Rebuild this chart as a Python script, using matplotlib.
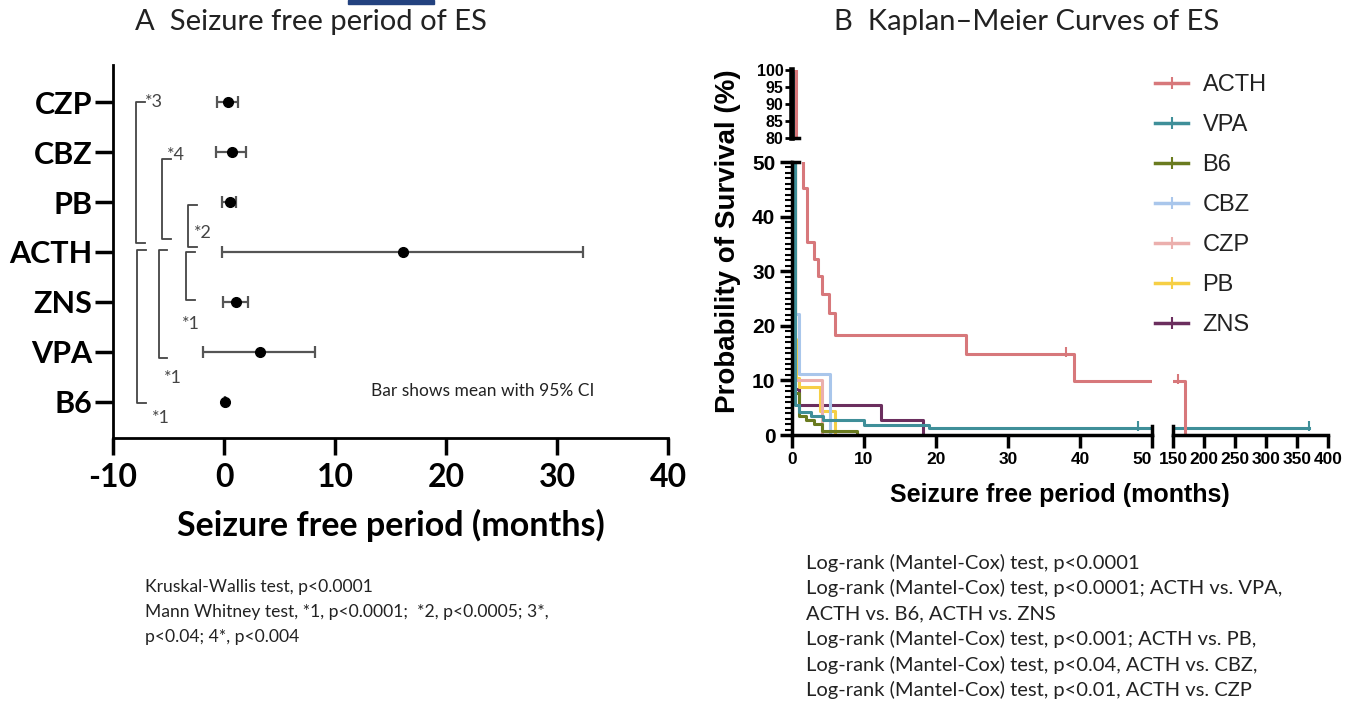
import matplotlib.pyplot as plt
from matplotlib.lines import Line2D
from matplotlib.patches import Rectangle

# ---- panel A: seizure free period, mean with 95% CI ----
drugs = ['CZP', 'CBZ', 'PB', 'ACTH', 'ZNS', 'VPA', 'B6']
means = [0.4, 0.7, 0.5, 16.1, 1.1, 3.2, 0.1]
ci_low = [-0.6, -0.7, -0.2, -0.2, -0.1, -1.9, 0.1]
ci_high = [1.3, 2.0, 1.1, 32.3, 2.2, 8.2, 0.1]
x_ticks_a = [-10, 0, 10, 20, 30, 40]

# significance pairs (Mann Whitney) and their labels
sig_pairs = [('CZP', 'ACTH'), ('CBZ', 'ACTH'), ('PB', 'ACTH'),
             ('ACTH', 'ZNS'), ('ACTH', 'VPA'), ('ACTH', 'B6')]
sig_labels = ['*3', '*4', '*2', '*1', '*1', '*1']

# ---- panel B: Kaplan-Meier curves (event times, survival % after event) ----
groups = ['ACTH', 'VPA', 'B6', 'CBZ', 'CZP', 'PB', 'ZNS']
colors = ['#D7787B', '#3F8F99', '#6A7B1F', '#A9C6EB', '#EBAFAD', '#F6CF45', '#6B2E5E']
acth_t = [0.6, 1.5, 2.1, 3.0, 3.6, 4.2, 5.1, 6.0, 24.2, 39.2, 170]
acth_s = [55, 45.2, 35.4, 32.3, 29.1, 25.8, 22.3, 18.4, 14.8, 9.9, 0]
vpa_t = [0.35, 1.0, 2.6, 4.3, 10.0, 19.0]
vpa_s = [5.5, 4.3, 3.4, 2.7, 1.8, 1.3]
b6_t = [0.35, 1.0, 2.0, 3.0, 4.2, 9.0]
b6_s = [7.7, 3.4, 2.7, 2.0, 0.8, 0]
cbz_t = [0.4, 1.0, 5.3]
cbz_s = [22.2, 11.1, 0]
czp_t = [0.4, 4.1]
czp_s = [10.0, 0]
pb_t = [0.35, 0.6, 1.0, 3.9, 6.0]
pb_s = [17.5, 10.5, 8.8, 4.4, 0]
zns_t = [0.4, 1.0, 12.3, 18.2]
zns_s = [8.4, 5.5, 2.7, 0]
times = [acth_t, vpa_t, b6_t, cbz_t, czp_t, pb_t, zns_t]
survs = [acth_s, vpa_s, b6_s, cbz_s, czp_s, pb_s, zns_s]
last_follow = [170, 370, 9.0, 5.3, 4.1, 6.0, 18.2]
# censored observations
censor_t = {'ACTH': [38, 158], 'VPA': [48, 370]}
censor_s = {'ACTH': [14.8, 9.9], 'VPA': [1.3, 1.3]}

notes_a = ['Kruskal-Wallis test, p<0.0001',
           'Mann Whitney test, *1, p<0.0001;  *2, p<0.0005; 3*,',
           'p<0.04; 4*, p<0.004']
notes_b = ['Log-rank (Mantel-Cox) test, p<0.0001',
           'Log-rank (Mantel-Cox) test, p<0.0001; ACTH vs. VPA,',
           'ACTH vs. B6, ACTH vs. ZNS',
           'Log-rank (Mantel-Cox) test, p<0.001; ACTH vs. PB,',
           'Log-rank (Mantel-Cox) test, p<0.04, ACTH vs. CBZ,',
           'Log-rank (Mantel-Cox) test, p<0.01, ACTH vs. CZP']

W, H = 1354, 706
fig = plt.figure(figsize=(W / 100, H / 100), dpi=100)


def fx(px):
    return px / W


def fy(py):
    return 1 - py / H


CAL = 'Lato'
ARI = 'Liberation Sans'

# small blue bar cut off at the top of the picture
fig.patches.append(Rectangle((fx(348), fy(4)), fx(86), 4 / H, color='#23427F',
                             transform=fig.transFigure))

# ================= panel A =================
axa = fig.add_axes([fx(113), fy(438), fx(668) - fx(113), fy(65) - fy(438)])
ypos = list(range(len(drugs)))
xerr = [[m - lo for m, lo in zip(means, ci_low)],
        [hi - m for m, hi in zip(means, ci_high)]]
axa.errorbar(means, ypos, xerr=xerr, fmt='o', color='black', ecolor='#555555',
             elinewidth=1.6, capsize=4, capthick=1.6, ms=7, zorder=3)
axa.set_xlim(-10, 40)
axa.set_ylim(6.73, -0.75)
axa.set_xticks(x_ticks_a)
axa.set_xticklabels([str(v) for v in x_ticks_a], fontfamily=CAL,
                    fontweight='bold', fontsize=23)
axa.set_yticks(ypos)
axa.set_yticklabels(drugs, fontfamily=CAL, fontweight='bold', fontsize=22)
axa.tick_params(axis='x', length=12, width=2.5, pad=6)
axa.tick_params(axis='y', length=13, width=2.5, pad=2)
for s in ['top', 'right']:
    axa.spines[s].set_visible(False)
for s in ['left', 'bottom']:
    axa.spines[s].set_linewidth(2)
axa.set_xlabel('Seizure free period (months)', fontfamily=CAL,
               fontweight='bold', fontsize=24.5, labelpad=12)

# brackets: vertical x, top end, bottom end, label offset (x, y)
br_x = [-7.96, -5.6, -3.25, -3.45, -5.9, -7.8]
br_top = [0.0, 1.14, 2.05, 3.01, 2.95, 2.95]
br_bot = [2.82, 2.74, 2.9, 3.97, 5.12, 6.02]
lab_xy = [(-7.1, 0.0), (-5.1, 1.05), (-2.75, 2.62), (-3.8, 4.45),
          (-5.4, 5.52), (-6.5, 6.32)]
arm = 0.8
for bx, bt, bb, lab, (lx, ly) in zip(br_x, br_top, br_bot, sig_labels, lab_xy):
    axa.plot([bx + arm, bx, bx, bx + arm], [bt, bt, bb, bb],
             color='#444444', lw=1.3, zorder=2)
    axa.text(lx, ly, lab, fontfamily=CAL, fontsize=13, color='#444444',
             ha='left', va='center')
axa.text(13.2, 5.78, 'Bar shows mean with 95% CI', fontfamily=CAL,
         fontsize=12.5, color='#222222', ha='left', va='center')

fig.text(fx(135), fy(22), 'A  Seizure free period of ES', fontfamily=CAL,
         fontsize=21, color='#222222', ha='left', va='center')
for i, line in enumerate(notes_a):
    fig.text(fx(145), fy(587 + 25 * i), line, fontfamily=CAL, fontsize=12.6,
             color='#222222', ha='left', va='center')

# ================= panel B =================
ax_top = fig.add_axes([fx(792), fy(138), fx(1152) - fx(792), fy(70) - fy(138)])
ax1 = fig.add_axes([fx(792), fy(435), fx(1152) - fx(792), fy(162) - fy(435)])
ax2 = fig.add_axes([fx(1173), fy(435), fx(1328) - fx(1173), fy(162) - fy(435)])

for g, col, t, s, end in reversed(list(zip(groups, colors, times, survs, last_follow))):
    xs = [0] + t + [end]
    ys = [100] + s + [s[-1]]
    for ax in (ax_top, ax1, ax2):
        ax.step(xs, ys, where='post', color=col, lw=2.2, zorder=2)
        if g in censor_t:
            ax.plot(censor_t[g], [v + 0.4 for v in censor_s[g]], ls='none',
                    marker='|', ms=7, mew=1.5, color=col, zorder=2)

for ax in (ax_top, ax1, ax2):
    for s in ['top', 'right']:
        ax.spines[s].set_visible(False)
    for s in ['left', 'bottom']:
        ax.spines[s].set_linewidth(2.5)
        ax.spines[s].set_zorder(3)

# top piece of the broken y axis
ax_top.set_xlim(0, 50)
ax_top.set_ylim(80, 100)
ax_top.set_yticks([80, 85, 90, 95, 100])
ax_top.set_yticklabels(['80', '85', '90', '95', '100'], fontfamily=ARI,
                       fontweight='bold', fontsize=11.5)
ax_top.tick_params(axis='y', length=5, width=2, pad=1)
ax_top.set_xticks([])
ax_top.spines['left'].set_linewidth(4)
ax_top.spines['bottom'].set_bounds(0, 1.0)

# lower piece, left segment of x axis
ax1.set_xlim(0, 50)
ax1.set_ylim(0, 50)
ax1.set_xticks([0, 10, 20, 30, 40, 50])
ax1.set_xticklabels(['0', '10', '20', '30', '40', '50'], fontfamily=ARI,
                    fontweight='bold', fontsize=12.5)
ax1.get_xticklabels()[-1].set_ha('right')
ax1.set_yticks([0, 10, 20, 30, 40, 50])
ax1.set_yticklabels(['0', '10', '20', '30', '40', '50'], fontfamily=ARI,
                    fontweight='bold', fontsize=15)
ax1.set_yticks(range(0, 51), minor=True)
ax1.tick_params(axis='both', which='major', length=9, width=2.5, pad=3)
ax1.tick_params(axis='y', which='minor', length=5, width=1.5)
ax1.spines['top'].set_visible(True)
ax1.spines['top'].set_linewidth(2.5)
ax1.spines['top'].set_bounds(0, 1.0)
ax1.plot([50, 50], [0, 1.6], color='black', lw=2.5, clip_on=False, zorder=4)

# lower piece, right segment of x axis
ax2.set_xlim(150, 400)
ax2.set_ylim(0, 50)
ax2.spines['left'].set_visible(False)
ax2.set_yticks([])
ax2.set_xticks([150, 200, 250, 300, 350, 400])
ax2.set_xticklabels(['150', '200', '250', '300', '350', '400'], fontfamily=ARI,
                    fontweight='bold', fontsize=12.5)
ax2.tick_params(axis='x', length=9, width=2.5, pad=3)
ax2.plot([150, 150], [0, 1.6], color='black', lw=2.5, clip_on=False, zorder=4)

fig.text(fx(728), fy(241), 'Probability of Survival (%)', fontfamily=ARI,
         fontweight='bold', fontsize=20, rotation=90, ha='center', va='center')
fig.text(fx(1060), fy(495), 'Seizure free period (months)', fontfamily=ARI,
         fontweight='bold', fontsize=18, ha='center', va='center')

handles = [Line2D([0], [0], color=c, lw=2.5, marker='|', ms=8, mew=1.5)
           for c in colors]
leg = fig.legend(handles, groups, loc='upper left',
                 bbox_to_anchor=(fx(1134), fy(53)), frameon=False,
                 prop={'family': ARI, 'size': 17}, handlelength=1.4,
                 handletextpad=0.6, labelspacing=0.76, numpoints=1)
for txt in leg.get_texts():
    txt.set_color('#222222')

fig.text(fx(834), fy(22), 'B  Kaplan\u2013Meier Curves of ES', fontfamily=CAL,
         fontsize=21, color='#222222', ha='left', va='center')
for i, line in enumerate(notes_b):
    fig.text(fx(806), fy(563 + 25.4 * i), line, fontfamily=CAL, fontsize=14.5,
             color='#222222', ha='left', va='center')

fig.savefig('out.png', dpi=100)
